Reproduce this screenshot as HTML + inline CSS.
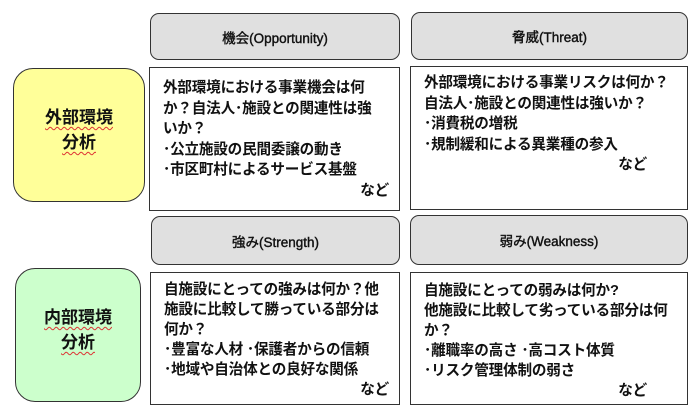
<!DOCTYPE html>
<html><head><meta charset="utf-8"><style>
body{margin:0;width:700px;height:420px;background:#fff;position:relative;font-family:"Liberation Sans","Noto Sans CJK JP",sans-serif;font-weight:bold;color:#111;overflow:hidden}
div{position:absolute;box-sizing:border-box}
.h{background:#e0e0e0;border:1.5px solid #333;border-radius:9px;display:flex;align-items:center;justify-content:center;font-size:13.5px;font-weight:normal;-webkit-text-stroke:0.4px #111}
.c{background:#fff;border:1.5px solid #333;font-size:14.6px;line-height:20.5px;padding:10px 0 0 13px;white-space:nowrap;letter-spacing:-0.2px}
.l{border:1.5px solid #333;border-radius:20px;display:flex;align-items:center;justify-content:center;text-align:center;font-size:17px;line-height:25px;padding-bottom:10px}
.l span{text-decoration:underline wavy #d33;text-decoration-thickness:1px;text-underline-offset:3px}
.r{text-align:right;padding-right:10px}
</style></head><body>
<div class="h" style="left:150px;top:13px;width:250px;height:47px">機会(Opportunity)</div>
<div class="h" style="left:411px;top:12px;width:277px;height:48px">脅威(Threat)</div>
<div class="h" style="left:151px;top:216px;width:249px;height:49px">強み(Strength)</div>
<div class="h" style="left:410px;top:215px;width:278px;height:50px">弱み(Weakness)</div>
<div class="l" style="left:13px;top:68px;width:132px;height:134px;background:#ffff99"><div style="position:static"><span>外部環境</span><br><span>分析</span></div></div>
<div class="l" style="left:15px;top:268px;width:126px;height:134px;background:#ccffcc"><div style="position:static"><span>内部環境</span><br><span>分析</span></div></div>
<div class="c" style="left:149px;top:67px;width:251px;height:144px">外部環境における事業機会は何<br>か？自法人･施設との関連性は強<br>いか？<br>･公立施設の民間委譲の動き<br>･市区町村によるサービス基盤<div class="r" style="position:static">など</div></div>
<div class="c" style="left:410px;top:66px;width:278px;height:144px;line-height:20.5px;padding-top:6px">外部環境における事業リスクは何か？<br>自法人･施設との関連性は強いか？<br>･消費税の増税<br>･規制緩和による異業種の参入<div class="r" style="position:static;padding-right:40px">など</div></div>
<div class="c" style="left:150px;top:272px;width:250px;height:133px;padding-top:7px;line-height:20px">自施設にとっての強みは何か？他<br>施設に比較して勝っている部分は<br>何か？<br>･豊富な人材 ･保護者からの信頼<br>･地域や自治体との良好な関係<div class="r" style="position:static">など</div></div>
<div class="c" style="left:410px;top:272px;width:278px;height:133px;padding-top:8px;line-height:20px">自施設にとっての弱みは何か?<br>他施設に比較して劣っている部分は何<br>か？<br>･離職率の高さ ･高コスト体質<br>･リスク管理体制の弱さ<div class="r" style="position:static;padding-right:40px">など</div></div>
</body></html>
